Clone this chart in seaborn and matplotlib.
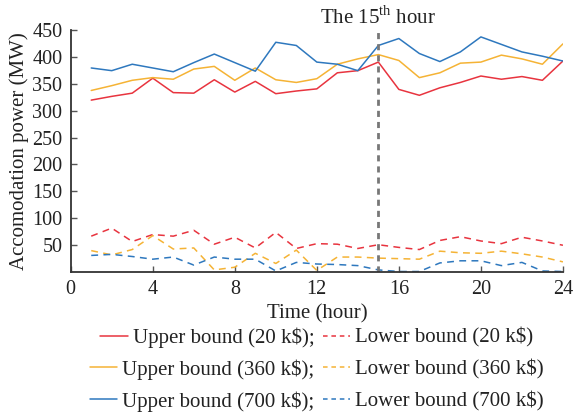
import numpy as np
import pandas as pd
import matplotlib
matplotlib.use("Agg")
import matplotlib.pyplot as plt
import seaborn as sns
from matplotlib.lines import Line2D
from matplotlib.legend import Legend

hours = list(range(1, 25))

upper_20 = [320, 327, 333, 361, 334, 333, 358, 335, 355, 332, 337, 341,
            371, 375, 391, 340, 329, 343, 353, 365, 359, 364, 357, 393]
upper_360 = [338, 347, 357, 362, 359, 378, 383, 357, 380, 358, 353, 360,
             387, 397, 405, 394, 362, 371, 389, 391, 404, 397, 387, 425]
upper_700 = [380, 375, 387, 380, 373, 390, 406, 390, 374, 428, 422, 391,
             387, 375, 422, 435, 407, 392, 410, 438, 424, 410, 402, 393]
lower_20 = [66, 81, 56, 69, 66, 77, 51, 64, 44, 73, 43, 52,
            51, 43, 50, 45, 41, 58, 65, 57, 52, 64, 57, 49]
lower_360 = [39, 31, 41, 67, 42, 44, 3, 8, 34, 15, 40, 2,
             27, 27, 25, 24, 23, 38, 35, 34, 38, 33, 27, 18]
lower_700 = [30, 32, 28, 23, 27, 12, 27, 23, 23, 1, 17, 14,
             13, 11, 3, 0, 0, 16, 20, 20, 11, 17, 1, 0]

costs = ["20 k$", "360 k$", "700 k$"]
colors = ["#E8343F", "#F5B335", "#2E78BE"]
uppers = [upper_20, upper_360, upper_700]
lowers = [lower_20, lower_360, lower_700]

sns.set_theme(style="ticks")
plt.rcParams['font.family'] = ['Liberation Serif', 'DejaVu Serif']
plt.rcParams['mathtext.fontset'] = 'custom'
plt.rcParams['mathtext.rm'] = 'Liberation Serif'

fig = plt.figure(figsize=(5.75, 4.12), dpi=100)
ax = fig.add_axes([0.123, 0.341, 0.856, 0.585])

for c, up, lo, col in zip(costs, uppers, lowers, colors):
    sns.lineplot(x=hours, y=up, color=col, linewidth=1.1, ax=ax)
    sns.lineplot(x=hours, y=lo, color=col, linewidth=1.1, ax=ax,
                 linestyle=(0, (4.5, 3.5)))

ax.axvline(15, color="#777777", linewidth=2.0, linestyle=(0, (2.2, 1.8)),
           ymin=0, ymax=1)
ax.text(15, 453, "The 15$^{\\mathrm{th}}$ hour", ha="center", va="bottom",
        fontsize=15, color="#222222", clip_on=False)

ax.set_xlim(0, 24)
ax.set_ylim(0, 450)
ax.set_xticks([0, 4, 8, 12, 16, 20, 24])
ax.set_yticks([50, 100, 150, 200, 250, 300, 350, 400, 450])
ax.tick_params(direction="in", length=4, width=1, colors="#555555",
               labelsize=14.5, labelcolor="#222222", pad=6)
for s in ["top", "right"]:
    ax.spines[s].set_visible(False)
for s in ["left", "bottom"]:
    ax.spines[s].set_color("#333333")
    ax.spines[s].set_linewidth(1.3)

ax.set_xlabel("Time (hour)", fontsize=15, color="#222222", labelpad=4)
ax.set_ylabel("Accomodation power (MW)", fontsize=15, color="#222222",
              labelpad=2)

row_y = [-0.232, -0.364, -0.496]
for i, (c, col) in enumerate(zip(costs, colors)):
    handles = [Line2D([], [], color=col, linewidth=1.1),
               Line2D([], [], color=col, linewidth=1.1,
                      linestyle=(0, (3, 2.5)))]
    labels = [f"Upper bound ({c});", f"Lower bound ({c})"]
    leg = Legend(ax, handles, labels, ncol=2, loc="upper center",
                 bbox_to_anchor=(0.5, row_y[i]), frameon=False,
                 fontsize=15, handlelength=1.3, handletextpad=0.25,
                 columnspacing=0.4, borderpad=0, borderaxespad=0)
    for t in leg.get_texts():
        t.set_color("#222222")
    ax.add_artist(leg)

fig.savefig("out.png", dpi=100)
